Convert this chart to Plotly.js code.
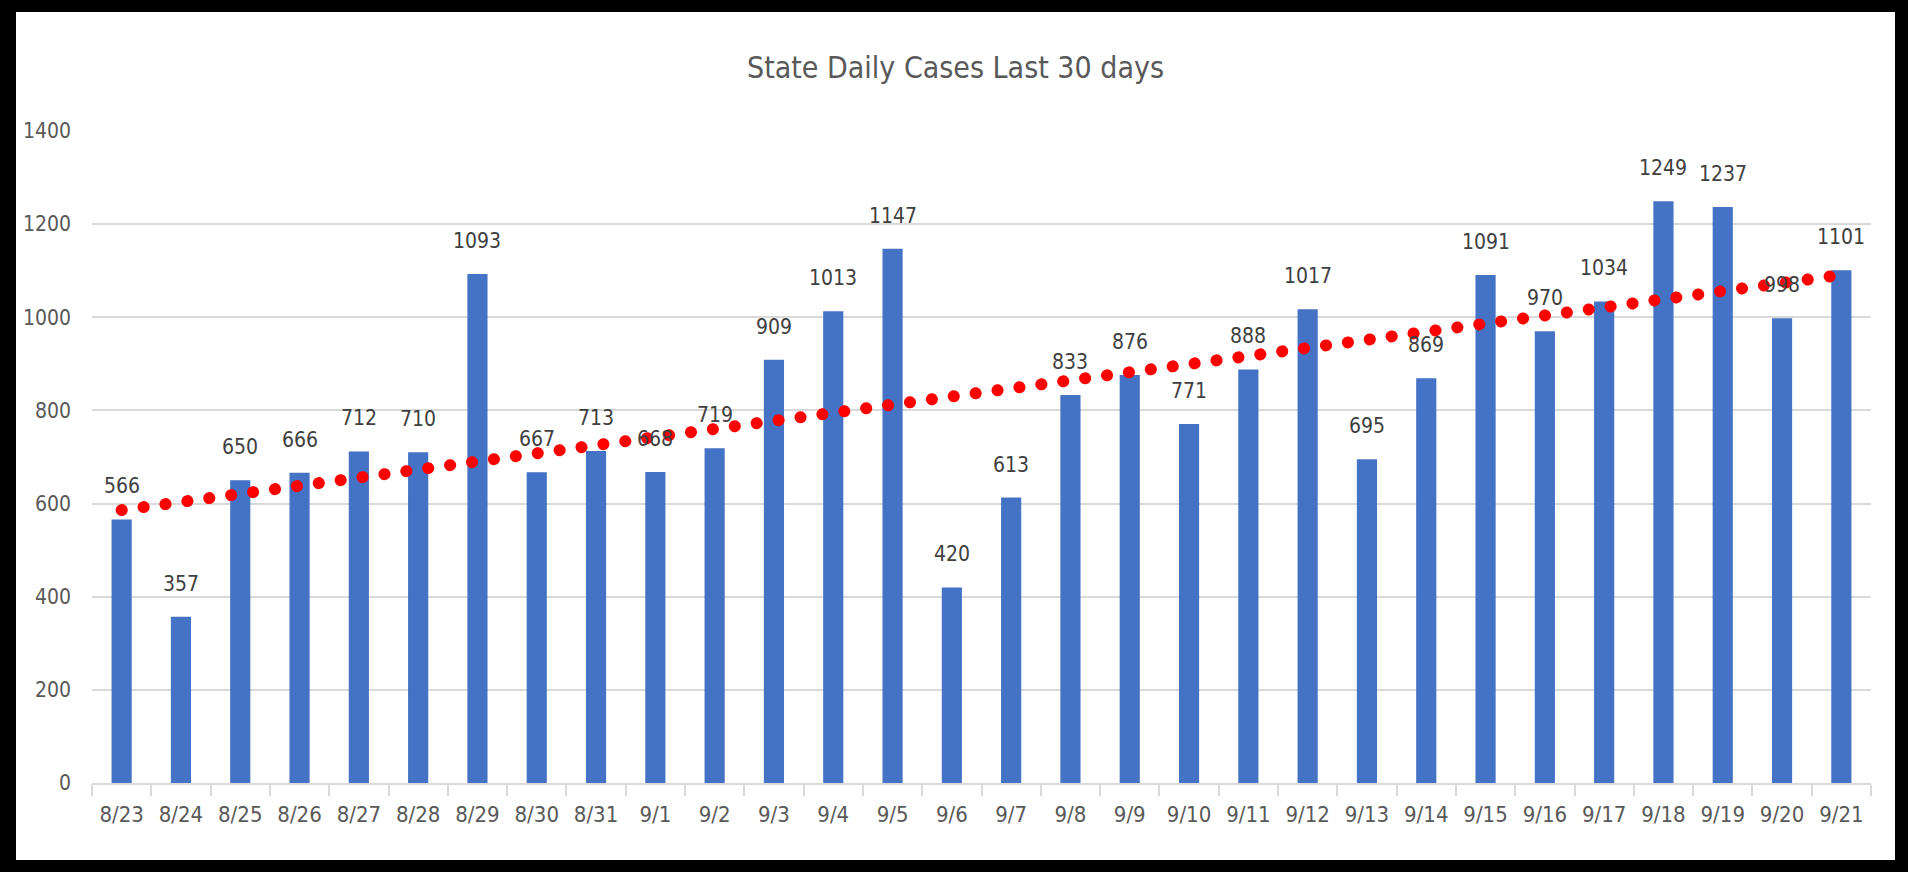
<!DOCTYPE html>
<html>
<head>
<meta charset="utf-8">
<script src="https://cdn.plot.ly/plotly-3.0.1.min.js"></script>
<style>
  html, body { margin: 0; padding: 0; background: #000; width: 1908px; height: 872px; overflow: hidden; }
  #chart { position: absolute; left: 16px; top: 12px; width: 1879px; height: 848px; background: #fff; }
  .scatterlayer .js-line { stroke-linecap: round; }
</style>
</head>
<body>
<div id="chart"></div>
<script>
const dates = ['8/23','8/24','8/25','8/26','8/27','8/28','8/29','8/30','8/31','9/1',
               '9/2','9/3','9/4','9/5','9/6','9/7','9/8','9/9','9/10','9/11',
               '9/12','9/13','9/14','9/15','9/16','9/17','9/18','9/19','9/20','9/21'];
const cases = [566, 357, 650, 666, 712, 710, 1093, 667, 713, 668,
               719, 909, 1013, 1147, 420, 613, 833, 876, 771, 888,
               1017, 695, 869, 1091, 970, 1034, 1249, 1237, 998, 1101];
const trendDates = ['8/23', '9/21'];
const trendValues = [586, 1091];
const yTicks = [0, 200, 400, 600, 800, 1000, 1200, 1400];

const FONT = '"Liberation Sans Narrow", "DejaVu Sans Condensed", "Liberation Sans", sans-serif';

const bars = {
  type: 'bar',
  x: dates,
  y: cases,
  marker: { color: '#4472C4', line: { width: 0 } },
  hoverinfo: 'x+y',
  showlegend: false
};

const trend = {
  type: 'scatter',
  mode: 'lines',
  x: trendDates,
  y: trendValues,
  line: { color: '#FF0000', width: 12, dash: '0.1px,22px' },
  hoverinfo: 'skip',
  showlegend: false
};

const annotations = dates.map((d, i) => ({
  x: d, y: cases[i], xref: 'x', yref: 'y',
  text: String(cases[i]),
  showarrow: false,
  yanchor: 'middle',
  yshift: 33,
  font: { family: FONT, size: 21, color: '#404040' }
}));

const layout = {
  width: 1879,
  height: 848,
  margin: { l: 75.5, r: 23.5, t: 119, b: 77 },
  paper_bgcolor: '#ffffff',
  plot_bgcolor: '#ffffff',
  bargap: 0.66,
  title: {
    text: 'State Daily Cases Last 30 days',
    x: 0.5, xref: 'container', xanchor: 'center',
    y: 0.934, yref: 'container', yanchor: 'middle',
    font: { family: FONT, size: 30, color: '#595959' }
  },
  xaxis: {
    type: 'category',
    categoryorder: 'array',
    categoryarray: dates,
    showgrid: false,
    showline: true,
    linecolor: '#d9d9d9',
    linewidth: 2,
    ticks: 'outside',
    tickson: 'boundaries',
    ticklen: 11,
    tickwidth: 2,
    tickcolor: '#d9d9d9',
    ticklabelstandoff: 11,
    tickfont: { family: FONT, size: 22, color: '#595959' },
    zeroline: false,
    fixedrange: true
  },
  yaxis: {
    range: [0, 1400],
    tickvals: yTicks,
    ticktext: yTicks.map(String),
    showgrid: true,
    gridcolor: '#d9d9d9',
    gridwidth: 2,
    zeroline: false,
    showline: false,
    ticks: '',
    ticklabelstandoff: 20,
    tickfont: { family: FONT, size: 21, color: '#595959' },
    fixedrange: true
  },
  annotations: annotations
};

Plotly.newPlot('chart', [bars, trend], layout, { displayModeBar: false, staticPlot: true });
</script>
</body>
</html>
